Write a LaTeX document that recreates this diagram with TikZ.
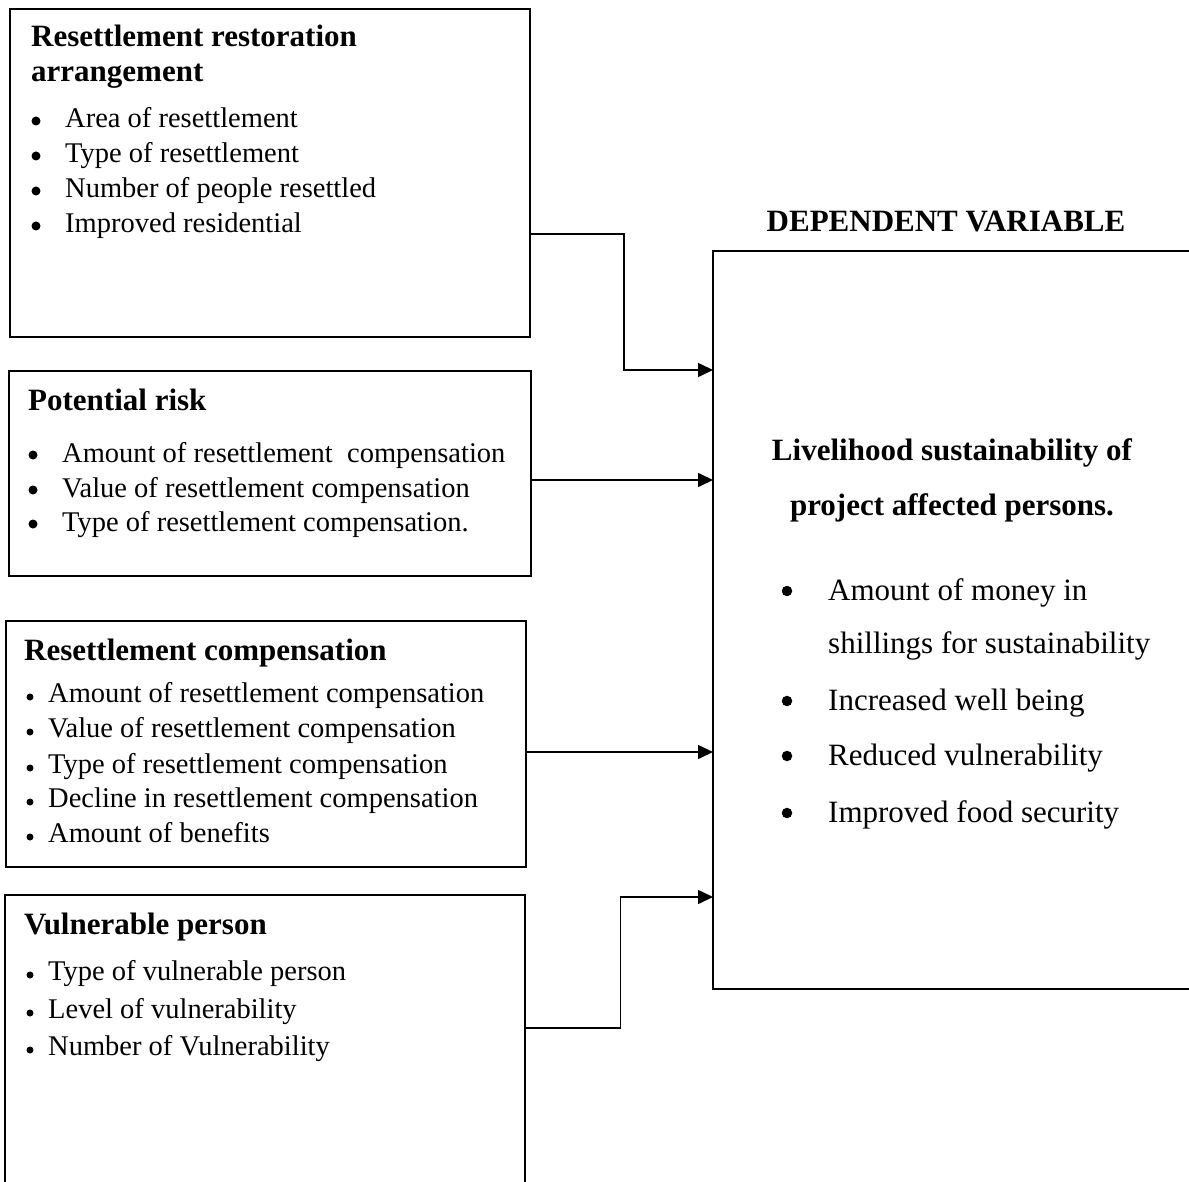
\documentclass[tikz,border=0pt]{standalone}
\usepackage{fontspec}
\setmainfont{Liberation Serif}
\usetikzlibrary{arrows.meta}
\begin{document}
\begin{tikzpicture}[x=1pt,y=-1pt,
  boxline/.style={line width=2pt,line join=miter},
  framed/.style={draw,line width=2pt,inner sep=0pt,anchor=north west},
  blank/.style={draw=none,inner sep=0pt,anchor=north west},
  conn/.style={line width=1.6pt,-{Triangle[length=15pt,width=14pt]}},
  ttl/.style={font=\fontsize{31}{37}\selectfont\bfseries,anchor=base west,inner sep=0pt},
  ctr/.style={font=\fontsize{31}{37}\selectfont\bfseries,anchor=base,inner sep=0pt},
  itm/.style={font=\fontsize{28.5}{34}\selectfont,anchor=base west,inner sep=0pt},
  ritm/.style={font=\fontsize{31}{37}\selectfont,anchor=base west,inner sep=0pt},
  dotA/.style={circle,fill,draw=none,inner sep=0pt,minimum size=9pt},
  dotB/.style={circle,fill,draw=none,inner sep=0pt,minimum size=7pt},
  dotC/.style={circle,fill,draw=none,inner sep=0pt,minimum size=10.5pt}]
\useasboundingbox (0,0) rectangle (1189,1182);

% ---- boxes ----
\node[framed,minimum width=520pt,minimum height=328pt] (b1) at (9,8) {};
\node[framed,minimum width=522pt,minimum height=205pt] (b2) at (8,370) {};
\node[framed,minimum width=520pt,minimum height=246pt] (b3) at (5,620) {};
\node[blank,minimum width=520pt,minimum height=287pt] (b4) at (5,895) {};
\draw[boxline] (b4.south west) -- (b4.north west) -- (b4.north east) -- (b4.south east);
\node[blank,minimum width=476pt,minimum height=738pt] (dep) at (713,251) {};
\draw[boxline] (dep.north east) -- (dep.north west) -- (dep.south west) -- (dep.south east);

% ---- box 1 ----
\node[ttl] (t1a) at (31,47) {Resettlement restoration};
\node[ttl] (t1b) at (31,82) {arrangement};
\node[dotA] (p11) at (36,121) {}; \node[itm] (i11) at (65,128) {Area of resettlement};
\node[dotA] (p12) at (36,156) {}; \node[itm] (i12) at (65,163) {Type of resettlement};
\node[dotA] (p13) at (36,191) {}; \node[itm] (i13) at (65,198) {Number of people resettled};
\node[dotA] (p14) at (36,226) {}; \node[itm] (i14) at (65,233) {Improved residential};

% ---- box 2 ----
\node[ttl] (t2) at (28,410) {Potential risk};
\node[dotA] (p21) at (33,455) {}; \node[itm] (i21) at (62,462) {Amount of resettlement\ \ compensation};
\node[dotA] (p22) at (33,490) {}; \node[itm] (i22) at (62,497) {Value of resettlement compensation};
\node[dotA] (p23) at (33,524) {}; \node[itm] (i23) at (62,531) {Type of resettlement compensation.};

% ---- box 3 ----
\node[ttl] (t3) at (24,660) {Resettlement compensation};
\node[dotB] (p31) at (30,697) {}; \node[itm] (i31) at (48,702) {Amount of resettlement compensation};
\node[dotB] (p32) at (30,732) {}; \node[itm] (i32) at (48,737) {Value of resettlement compensation};
\node[dotB] (p33) at (30,768) {}; \node[itm] (i33) at (48,773) {Type of resettlement compensation};
\node[dotB] (p34) at (30,802) {}; \node[itm] (i34) at (48,807) {Decline in resettlement compensation};
\node[dotB] (p35) at (30,837) {}; \node[itm] (i35) at (48,842) {Amount of benefits};

% ---- box 4 ----
\node[ttl] (t4) at (24,934) {Vulnerable person};
\node[dotB] (p41) at (30,975) {}; \node[itm] (i41) at (48,980) {Type of vulnerable person};
\node[dotB] (p42) at (30,1013) {}; \node[itm] (i42) at (48,1018) {Level of vulnerability};
\node[dotB] (p43) at (30,1050) {}; \node[itm] (i43) at (48,1055) {Number of Vulnerability};

% ---- dependent ----
\node[ctr] (dv) at (946,232) {DEPENDENT VARIABLE};
\node[ctr] (h1) at (952,460) {Livelihood sustainability of};
\node[ctr] (h2) at (952,515) {project affected persons.};
\node[dotC] (q1) at (787,591) {}; \node[ritm] (r1) at (828,600) {Amount of money in};
\node[ritm] (r1b) at (828,653) {shillings for sustainability};
\node[dotC] (q2) at (787,701) {}; \node[ritm] (r2) at (828,710) {Increased well being};
\node[dotC] (q3) at (787,756) {}; \node[ritm] (r3) at (828,765) {Reduced vulnerability};
\node[dotC] (q4) at (787,813) {}; \node[ritm] (r4) at (828,822) {Improved food security};

% ---- connectors ----
\draw[conn] ([yshift=-226pt]b1.north east) -- ++(93,0) |- ([yshift=-119pt]dep.north west);
\draw[conn] ([yshift=-110pt]b2.north east) -- ([yshift=-229pt]dep.north west);
\draw[conn] ([yshift=-132pt]b3.north east) -- ([yshift=-501pt]dep.north west);
\draw[conn] ([yshift=-133pt]b4.north east) -- ++(95,0) |- ([yshift=-646pt]dep.north west);
\end{tikzpicture}
\end{document}
